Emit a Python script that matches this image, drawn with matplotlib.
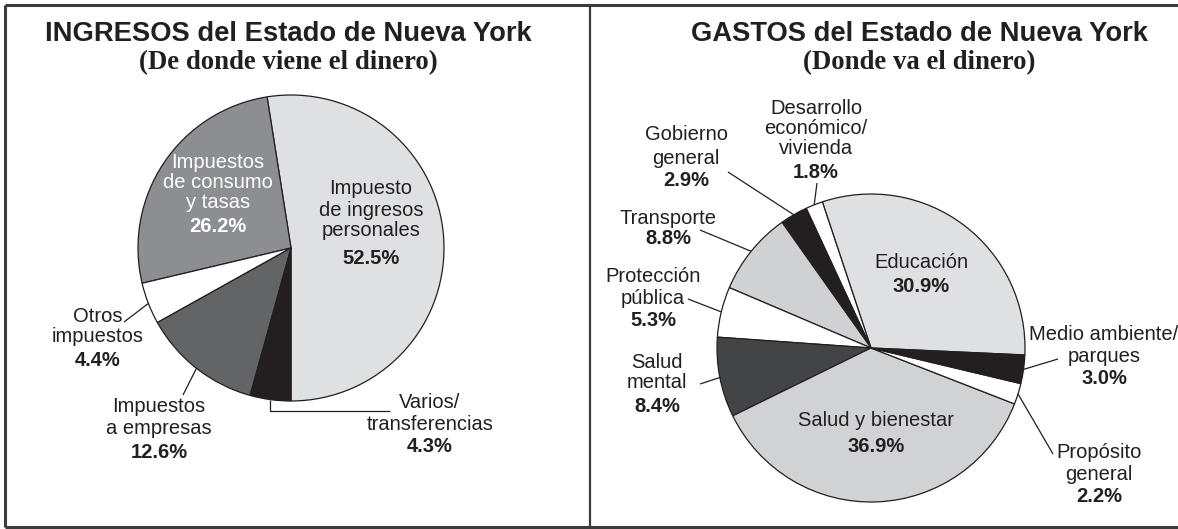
import matplotlib
matplotlib.use("Agg")
import matplotlib.pyplot as plt
import numpy as np

W, H = 1178, 529

# ---------------- data ----------------
ing_labels = ["Impuesto\nde ingresos\npersonales", "Impuestos\nde consumo\ny tasas",
              "Otros\nimpuestos", "Impuestos\na empresas", "Varios/\ntransferencias"]
ing_values = [52.5, 26.2, 4.4, 12.6, 4.3]
ing_colors = ["#dfe0e2", "#8d8e91", "#ffffff", "#636466", "#231f20"]

gas_labels = ["Educación", "Desarrollo\neconómico/\nvivienda", "Gobierno\ngeneral", "Transporte",
              "Protección\npública", "Salud\nmental", "Salud y bienestar",
              "Propósito\ngeneral", "Medio ambiente/\nparques"]
gas_values = [30.9, 1.8, 2.9, 8.8, 5.3, 8.4, 36.9, 2.2, 3.0]
gas_colors = ["#dfe0e2", "#ffffff", "#231f20", "#d0d1d3", "#ffffff", "#434446",
              "#d1d2d4", "#ffffff", "#231f20"]

TXT = "#231f20"
SANS = ["Liberation Sans", "DejaVu Sans"]
SERIF = ["Liberation Serif", "DejaVu Serif"]
FS = 14.5

fig = plt.figure(figsize=(W / 100, H / 100), dpi=100)
ax = fig.add_axes([0, 0, 1, 1])


def Y(py):
    return H - py


def draw_pie(values, colors, center, radius, start):
    wedges, _ = ax.pie(values, colors=colors, startangle=start, counterclock=True,
                       center=(center[0], Y(center[1])), radius=radius,
                       wedgeprops=dict(edgecolor=TXT, linewidth=0.9))
    return wedges


def edge_point(wedge, center, radius):
    ang = np.deg2rad((wedge.theta1 + wedge.theta2) / 2)
    return center[0] + radius * np.cos(ang), Y(center[1]) + radius * np.sin(ang)


def label(text, value, x, ys, pct_y, color=TXT):
    for line, yy in zip(text.split("\n"), ys):
        ax.text(x, Y(yy), line, ha="center", va="center", fontsize=FS,
                family=SANS, color=color)
    ax.text(x, Y(pct_y), f"{value:.1f}%", ha="center", va="center", fontsize=FS,
            family=SANS, fontweight="bold", color=color)


def leader(pts):
    xs = [p[0] for p in pts]
    ys = [p[1] for p in pts]
    ax.plot(xs, ys, color=TXT, lw=0.9, solid_capstyle="butt")


# ---------------- left pie ----------------
c1, r1 = (291, 248), 153
w1 = draw_pie(ing_values, ing_colors, c1, r1, 270)

# ---------------- right pie ----------------
c2, r2 = (871, 348), 154
w2 = draw_pie(gas_values, gas_colors, c2, r2, -2.6)

ax.set_xlim(0, W)
ax.set_ylim(0, H)
ax.set_aspect("equal")
ax.axis("off")

# titles
ax.text(288, Y(34), "INGRESOS del Estado de Nueva York", ha="center", va="center",
        fontsize=19.7, fontweight="bold", family=SANS, color=TXT)
ax.text(288, Y(63), "(De donde viene el dinero)", ha="center", va="center",
        fontsize=19.3, fontweight="bold", family=SERIF, color=TXT)
ax.text(919, Y(34), "GASTOS del Estado de Nueva York", ha="center", va="center",
        fontsize=19.7, fontweight="bold", family=SANS, color=TXT)
ax.text(919, Y(63), "(Donde va el dinero)", ha="center", va="center",
        fontsize=19.3, fontweight="bold", family=SERIF, color=TXT)

# left labels
label(ing_labels[0], ing_values[0], 371, [189, 210, 231], 258)
label(ing_labels[1], ing_values[1], 218, [162, 182, 202], 226, color="white")
label(ing_labels[2], ing_values[2], 98, [316, 337], 361)
label(ing_labels[3], ing_values[3], 159, [407, 429], 453)
label(ing_labels[4], ing_values[4], 430, [402, 424], 447)

p = edge_point(w1[2], c1, r1)
leader([(124, Y(322)), p])
p = edge_point(w1[3], c1, r1)
leader([(183, Y(395)), p])
p = edge_point(w1[4], c1, r1)
leader([p, (p[0], Y(411)), (390, Y(411))])

# right labels
label(gas_labels[0], gas_values[0], 921, [263], 287)
label(gas_labels[1], gas_values[1], 816, [108, 129, 149], 172)
label(gas_labels[2], gas_values[2], 686, [135, 158], 181)
label(gas_labels[3], gas_values[3], 668, [218], 239)
label(gas_labels[4], gas_values[4], 653, [277, 298], 321)
label(gas_labels[5], gas_values[5], 657, [362, 383], 406)
label(gas_labels[6], gas_values[6], 876, [420], 446)
label(gas_labels[7], gas_values[7], 1099, [453, 475], 497)
label(gas_labels[8], gas_values[8], 1104, [335, 356], 378)

outer = {1: (817, 183), 2: (728, 172), 3: (700, 230), 4: (688, 299),
         5: (700, 384), 7: (1053, 454), 8: (1058, 359)}
for i, (ox, oy) in outer.items():
    p = edge_point(w2[i], c2, r2)
    leader([(ox, Y(oy)), p])

# panel frame
fc = "#3b3b3b"
ax.plot([5, W], [Y(5), Y(5)], color=fc, lw=2.2, solid_capstyle="butt")
ax.plot([5, 5], [Y(5), Y(527)], color=fc, lw=2.2, solid_capstyle="butt")
ax.plot([590, 590], [Y(5), Y(527)], color=fc, lw=1.6, solid_capstyle="butt")
ax.plot([5, W], [Y(527), Y(527)], color=fc, lw=2.2, solid_capstyle="butt")

fig.savefig("out.png", dpi=100, facecolor="white")
